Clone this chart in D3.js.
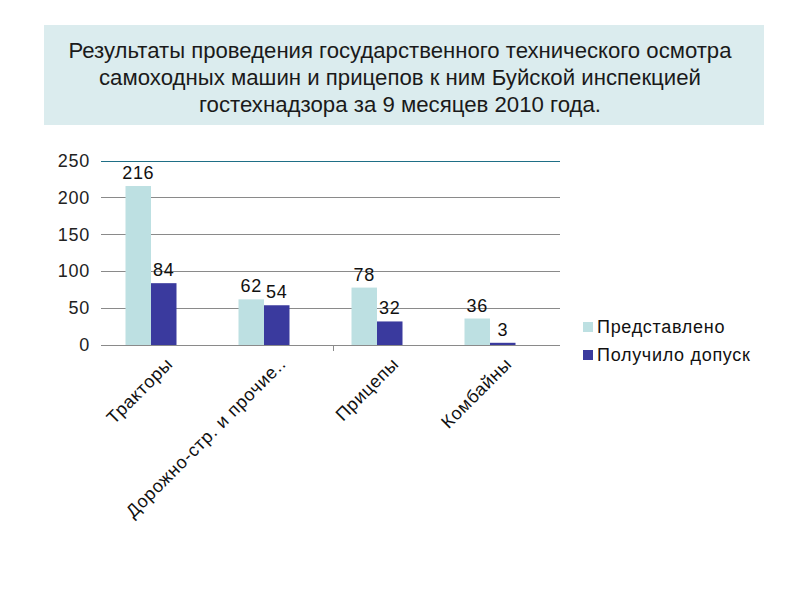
<!DOCTYPE html>
<html><head><meta charset="utf-8">
<script src="https://cdn.jsdelivr.net/npm/d3@7"></script>
<style>body{margin:0;background:#fff}</style>
</head><body>
<script>
const titleLines = ["Результаты проведения государственного технического осмотра","самоходных машин и прицепов к ним Буйской инспекцией","гостехнадзора за 9 месяцев 2010 года."];
const categories = ["Тракторы","Дорожно-стр. и прочие..","Прицепы","Комбайны"];
const seriesNames = ["Представлено","Получило допуск"];
const presented = [216,62,78,36];
const admitted = [84,54,32,3];
const yTicks = [0,50,100,150,200,250];
const colors = ["#bde0e2","#3a3a9e"];

const svg = d3.select("body").append("svg").attr("width",800).attr("height",600);
svg.append("rect").attr("x",44).attr("y",25).attr("width",720).attr("height",100).attr("fill","#dbecee");
const tw = [663,602,402];
svg.selectAll("text.title").data(titleLines).join("text")
  .attr("x",400).attr("y",(d,i)=>58+i*27).attr("text-anchor","middle")
  .attr("font-family","'Liberation Sans Narrow','Arial Narrow','Liberation Sans',Arial,sans-serif")
  .attr("font-size",22).attr("fill","#1a1a1a")
  .attr("textLength",(d,i)=>tw[i]).attr("lengthAdjust","spacingAndGlyphs")
  .text(d=>d);

const y = d3.scaleLinear().domain([0,250]).range([345,161]);
const x0 = d3.scaleBand().domain(categories).range([94.5,546.5]);
const x1 = d3.scaleBand().domain([0,1]).range([x0.bandwidth()/2-25.5, x0.bandwidth()/2+25.5]);
const font = "'Liberation Sans',Arial,sans-serif";
const ls = 0.7;

// gridlines
svg.append("g").selectAll("line").data(yTicks).join("line")
  .attr("x1",101).attr("x2",560).attr("y1",d=>y(d)).attr("y2",d=>y(d))
  .attr("stroke",d=>d===250?"#1f6f86":"#8a8a8a").attr("stroke-width",1)
  .attr("shape-rendering","crispEdges");
svg.append("line").attr("x1",333).attr("x2",333).attr("y1",345).attr("y2",351)
  .attr("stroke","#8a8a8a").attr("shape-rendering","crispEdges");

// y labels
svg.append("g").selectAll("text").data(yTicks).join("text")
  .attr("x",90).attr("y",d=>y(d)+6).attr("text-anchor","end")
  .attr("font-family",font).attr("font-size",18).attr("letter-spacing",ls).attr("fill","#222").text(d=>d);

const data = categories.map((c,i)=>({c, vals:[presented[i],admitted[i]]}));
const g = svg.append("g").selectAll("g").data(data).join("g")
  .attr("transform",d=>`translate(${x0(d.c)},0)`);
g.selectAll("rect").data(d=>d.vals.map((v,k)=>({v,k}))).join("rect")
  .attr("x",d=>x1(d.k)).attr("width",x1.bandwidth())
  .attr("y",d=>y(d.v)).attr("height",d=>y(0)-y(d.v)).attr("fill",d=>colors[d.k]);
g.selectAll("text").data(d=>d.vals.map((v,k)=>({v,k}))).join("text")
  .attr("x",d=>x1(d.k)+x1.bandwidth()/2).attr("y",d=>y(d.v)-7)
  .attr("text-anchor","middle").attr("font-family",font).attr("font-size",18).attr("letter-spacing",ls).attr("fill","#111")
  .text(d=>d.v);

// x labels
svg.append("g").selectAll("text").data(categories).join("text")
  .attr("transform",d=>`translate(${x0(d)+x0.bandwidth()/2+23},${365}) rotate(-45)`)
  .attr("text-anchor","end").attr("font-family",font).attr("font-size",18).attr("letter-spacing",ls).attr("fill","#111")
  .text(d=>d);

// legend
const lg = svg.append("g").selectAll("g").data(seriesNames).join("g")
  .attr("transform",(d,i)=>`translate(583,${327+i*28})`);
lg.append("rect").attr("x",0).attr("y",-5).attr("width",10).attr("height",10).attr("fill",(d,i)=>colors[i]);
lg.append("text").attr("x",14).attr("y",6).attr("font-family",font).attr("font-size",18).attr("letter-spacing",ls).attr("fill","#111").text(d=>d);
</script>
</body></html>
